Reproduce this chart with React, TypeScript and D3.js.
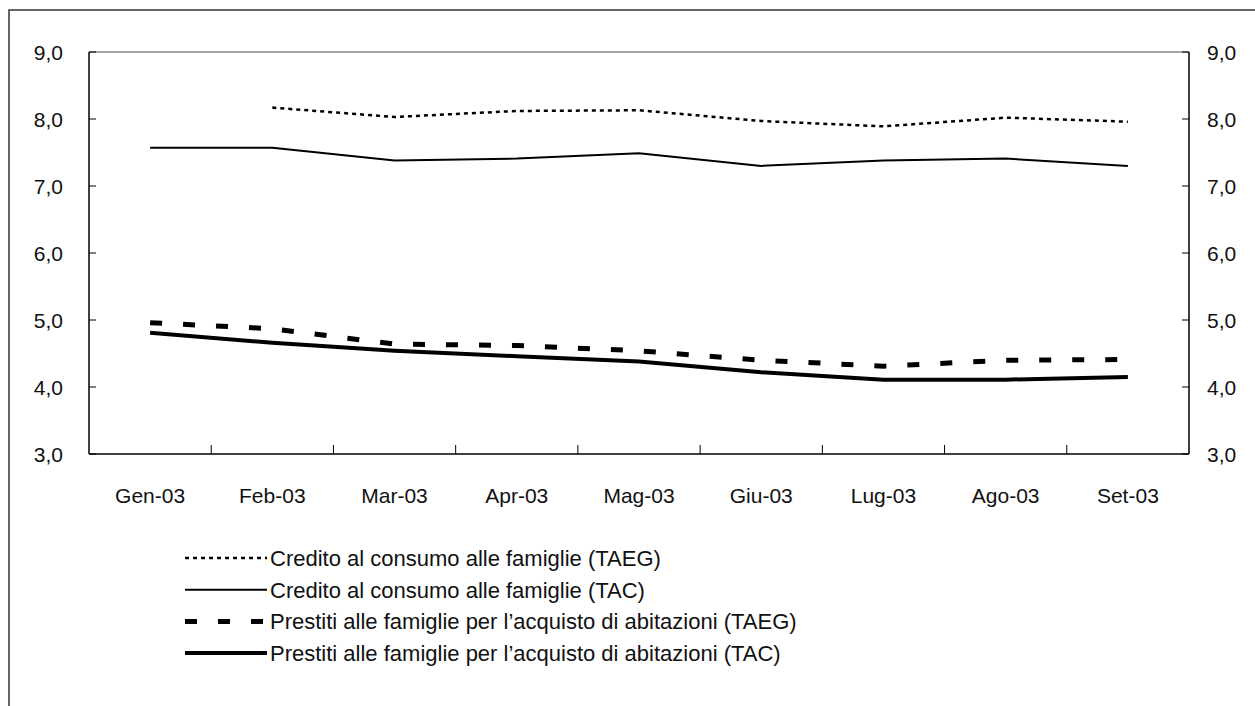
import React from 'react';
import * as d3 from 'd3';

const months = ['Gen-03', 'Feb-03', 'Mar-03', 'Apr-03', 'Mag-03', 'Giu-03', 'Lug-03', 'Ago-03', 'Set-03'];
const consumoTAEG: (number | null)[] = [null, 8.17, 8.03, 8.12, 8.13, 7.97, 7.89, 8.02, 7.96];
const consumoTAC = [7.57, 7.57, 7.38, 7.41, 7.49, 7.3, 7.38, 7.41, 7.3];
const abitazTAEG = [4.96, 4.87, 4.64, 4.62, 4.54, 4.4, 4.31, 4.4, 4.41];
const abitazTAC = [4.81, 4.66, 4.54, 4.46, 4.38, 4.22, 4.11, 4.11, 4.15];
const yTicks = [3, 4, 5, 6, 7, 8, 9];

const seriesNames = [
  'Credito al consumo alle famiglie (TAEG)',
  'Credito al consumo alle famiglie (TAC)',
  "Prestiti alle famiglie per l\u2019acquisto di abitazioni (TAEG)",
  "Prestiti alle famiglie per l\u2019acquisto di abitazioni (TAC)",
];

const styles = [
  { width: 2.5, dash: '4,4' },
  { width: 2, dash: '' },
  { width: 5, dash: '12,21' },
  { width: 4, dash: '' },
];

const W = 1255;
const H = 706;
const left = 89;
const right = 1189;
const top = 52;
const bottom = 454;
const font = "'Liberation Sans', Arial, sans-serif";
const axisFs = 21;
const legendFs = 22;

const App: React.FC = () => {
  const x = d3.scaleBand<string>().domain(months).range([left, right]);
  const y = d3.scaleLinear().domain([3, 9]).range([bottom, top]);
  const cx = (m: string) => (x(m) as number) + x.bandwidth() / 2;
  const fmt = (v: number) => v.toFixed(1).replace('.', ',');

  const line = d3
    .line<number | null>()
    .defined((d) => d !== null)
    .x((_, i) => cx(months[i]))
    .y((d) => y(d as number));

  const all = [consumoTAEG, consumoTAC, abitazTAEG, abitazTAC];

  return (
    <svg width={W} height={H} style={{ position: 'absolute', left: 0, top: 0, background: '#fff' }}>
      <rect x={9} y={10} width={1300} height={800} fill="#fff" stroke="#333" strokeWidth={1.5} />

      <line x1={left} x2={right} y1={top} y2={top} stroke="#888" strokeWidth={1.5} />
      <line x1={left} x2={left} y1={top} y2={bottom} stroke="#000" strokeWidth={1.5} />
      <line x1={right} x2={right} y1={top} y2={bottom} stroke="#000" strokeWidth={1.5} />
      <line x1={left} x2={right} y1={bottom} y2={bottom} stroke="#000" strokeWidth={1.5} />

      {yTicks.map((t) => (
        <g key={t}>
          <line x1={left} x2={left + 7} y1={y(t)} y2={y(t)} stroke="#000" />
          <line x1={right - 7} x2={right} y1={y(t)} y2={y(t)} stroke="#000" />
          <text x={63} y={y(t)} dy="0.36em" textAnchor="end" fontFamily={font} fontSize={axisFs} fill="#111">
            {fmt(t)}
          </text>
          <text x={1207} y={y(t)} dy="0.36em" textAnchor="start" fontFamily={font} fontSize={axisFs} fill="#111">
            {fmt(t)}
          </text>
        </g>
      ))}

      {months.slice(1).map((m) => (
        <line key={m} x1={x(m)} x2={x(m)} y1={bottom} y2={bottom - 9} stroke="#000" />
      ))}
      {months.map((m) => (
        <text key={m} x={cx(m)} y={495} dy="0.36em" textAnchor="middle" fontFamily={font} fontSize={axisFs} fill="#111">
          {m}
        </text>
      ))}

      {all.map((s, i) => (
        <path
          key={i}
          d={line(s) || ''}
          fill="none"
          stroke="#000"
          strokeWidth={styles[i].width}
          strokeDasharray={styles[i].dash || undefined}
        />
      ))}

      {seriesNames.map((n, i) => {
        const ly = 558 + i * 31.7;
        return (
          <g key={n}>
            <line
              x1={185}
              x2={267}
              y1={ly}
              y2={ly}
              stroke="#000"
              strokeWidth={styles[i].width}
              strokeDasharray={styles[i].dash || undefined}
            />
            <text x={270} y={ly} dy="0.36em" fontFamily={font} fontSize={legendFs} fill="#111">
              {n}
            </text>
          </g>
        );
      })}
    </svg>
  );
};

export default App;
